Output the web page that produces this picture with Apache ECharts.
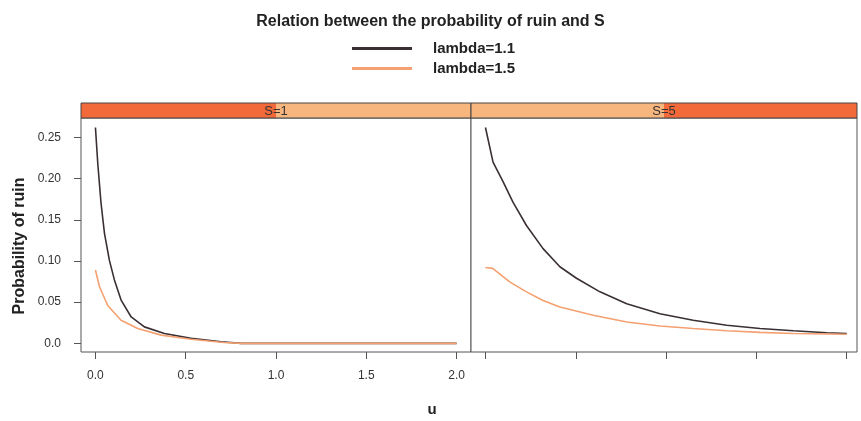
<!DOCTYPE html>
<html>
<head>
<meta charset="utf-8">
<script src="https://cdn.jsdelivr.net/npm/echarts@6/dist/echarts.min.js"></script>
<style>
html,body{margin:0;padding:0;background:#fff;}
#chart{width:861px;height:421px;}
</style>
</head>
<body>
<div id="chart"></div>
<script>
// ---- data ----
const titleText = 'Relation between the probability of ruin and S';
const seriesNames = ['lambda=1.1', 'lambda=1.5'];
const panelLabels = ['S=1', 'S=5'];

// Panel S=1
const uS1L11 = [0, 0.013, 0.031, 0.050, 0.077, 0.105, 0.142, 0.198, 0.271, 0.382, 0.530, 0.696, 0.807, 1.0, 1.5, 2.0];
const pS1L11 = [0.262, 0.218, 0.170, 0.1335, 0.101, 0.077, 0.0525, 0.032, 0.020, 0.012, 0.006, 0.002, 0.0, 0.0, 0.0, 0.0];
const uS1L15 = [0, 0.022, 0.068, 0.142, 0.234, 0.364, 0.530, 0.71, 0.81, 1.0, 1.5, 2.0];
const pS1L15 = [0.089, 0.069, 0.046, 0.028, 0.018, 0.010, 0.005, 0.001, 0.0, 0.0, 0.0, 0.0];

// Panel S=5
const uS5L11 = [0, 0.042, 0.098, 0.153, 0.227, 0.319, 0.412, 0.504, 0.634, 0.782, 0.966, 1.15, 1.336, 1.52, 1.705, 1.89, 2.0];
const pS5L11 = [0.262, 0.220, 0.196, 0.171, 0.143, 0.115, 0.093, 0.079, 0.0625, 0.048, 0.036, 0.028, 0.022, 0.018, 0.0153, 0.0128, 0.012];
const uS5L15 = [0, 0.04, 0.134, 0.227, 0.319, 0.412, 0.597, 0.782, 0.966, 1.15, 1.336, 1.52, 1.705, 2.0];
const pS5L15 = [0.092, 0.091, 0.0746, 0.0625, 0.052, 0.044, 0.034, 0.026, 0.021, 0.018, 0.0153, 0.0133, 0.012, 0.011];

// Axis ticks
const xTicks = [0, 0.5, 1, 1.5, 2];
const xTickLabels = ['0.0', '0.5', '1.0', '1.5', '2.0'];
const yTicks = [0, 0.05, 0.10, 0.15, 0.20, 0.25];
const yTickLabels = ['0.0', '0.05', '0.10', '0.15', '0.20', '0.25'];
const xName = 'u';
const yName = 'Probability of ruin';

// ---- build ----
const pairs = (u, p) => u.map((v, i) => [v, p[i]]);
const lookup = (ticks, labels) => v => {
  let best = 0;
  ticks.forEach((t, i) => { if (Math.abs(t - v) < Math.abs(ticks[best] - v)) best = i; });
  return labels[best];
};

const DARK = '#3a3034';
const ORANGE = '#f4a070';
const STRIP_DARK = '#f26a3a';
const STRIP_LIGHT = '#f8b67f';
const FONT = 'Liberation Sans';

const gridTop = 118, gridH = 234;
const grids = [
  { left: 81, top: gridTop, width: 390, height: gridH },
  { left: 471, top: gridTop, width: 386, height: gridH }
];
const xMax = [2.08, 2.057];

const chart = echarts.init(document.getElementById('chart'), null, { renderer: 'canvas' });

const xAxes = grids.map((g, i) => ({
  type: 'value', gridIndex: i, min: -0.08, max: xMax[i],
  axisLine: { show: false, onZero: false },
  axisTick: { show: true, inside: false, customValues: xTicks, length: 7, lineStyle: { color: '#555' } },
  axisLabel: { show: i === 0, customValues: xTicks, formatter: lookup(xTicks, xTickLabels),
    margin: 18, color: '#333', fontFamily: FONT, fontSize: 12 },
  splitLine: { show: false }
}));
const yAxes = grids.map((g, i) => ({
  type: 'value', gridIndex: i, min: -0.0105, max: 0.2735,
  axisLine: { show: false, onZero: false },
  axisTick: { show: i === 0, inside: false, customValues: yTicks, length: 7, lineStyle: { color: '#555' } },
  axisLabel: { show: i === 0, customValues: yTicks, formatter: lookup(yTicks, yTickLabels),
    margin: 20, color: '#333', fontFamily: FONT, fontSize: 12 },
  splitLine: { show: false }
}));

const lineSeries = (name, color, idx, data) => ({
  type: 'line', name, xAxisIndex: idx, yAxisIndex: idx, data,
  showSymbol: false, symbol: 'none', smooth: false,
  lineStyle: { color, width: 1.6 }, itemStyle: { color },
  animation: false
});

const series = [
  lineSeries(seriesNames[0], DARK, 0, pairs(uS1L11, pS1L11)),
  lineSeries(seriesNames[1], ORANGE, 0, pairs(uS1L15, pS1L15)),
  lineSeries(seriesNames[0], DARK, 1, pairs(uS5L11, pS5L11)),
  lineSeries(seriesNames[1], ORANGE, 1, pairs(uS5L15, pS5L15))
];

// strips
const stripTop = 103, stripH = 15;
const graphic = [];
grids.forEach((g, i) => {
  graphic.push({ type: 'rect', shape: { x: g.left, y: stripTop, width: g.width, height: stripH },
    style: { fill: STRIP_LIGHT, stroke: null }, silent: true });
  const half = g.width / 2;
  graphic.push({ type: 'rect', shape: { x: i === 0 ? g.left : g.left + half, y: stripTop, width: half, height: stripH },
    style: { fill: STRIP_DARK }, silent: true });
  graphic.push({ type: 'rect', shape: { x: g.left, y: stripTop, width: g.width, height: stripH },
    style: { fill: 'none', stroke: '#444', lineWidth: 1 }, silent: true });
  graphic.push({ type: 'text', x: g.left + half, y: stripTop + stripH / 2 + 1,
    style: { text: panelLabels[i], font: '13px ' + FONT, fill: '#333', align: 'center', verticalAlign: 'middle' }, silent: true });
});
graphic.push({ type: 'text', x: 20, y: 246, rotation: Math.PI / 2,
  style: { text: yName, font: 'bold 16px ' + FONT, fill: '#222', align: 'center', verticalAlign: 'middle' } });
graphic.push({ type: 'text', x: 432, y: 410,
  style: { text: xName, font: 'bold 15px ' + FONT, fill: '#222', align: 'center', verticalAlign: 'middle' } });

chart.setOption({
  animation: false,
  backgroundColor: '#fff',
  title: { text: titleText, left: 'center', top: 9,
    textStyle: { fontFamily: FONT, fontSize: 16, fontWeight: 'bold', color: '#222' } },
  legend: {
    data: seriesNames, orient: 'vertical', left: 347, top: 36,
    itemWidth: 60, itemHeight: 3, itemGap: 5, icon: 'rect',
    textStyle: { fontFamily: FONT, fontSize: 15, fontWeight: 'bold', color: '#222', padding: [0, 0, 0, 16] }
  },
  grid: grids.map(g => Object.assign({ show: true, borderColor: '#555', borderWidth: 1, backgroundColor: '#fff', containLabel: false }, g)),
  xAxis: xAxes,
  yAxis: yAxes,
  series,
  graphic
});
</script>
</body>
</html>
